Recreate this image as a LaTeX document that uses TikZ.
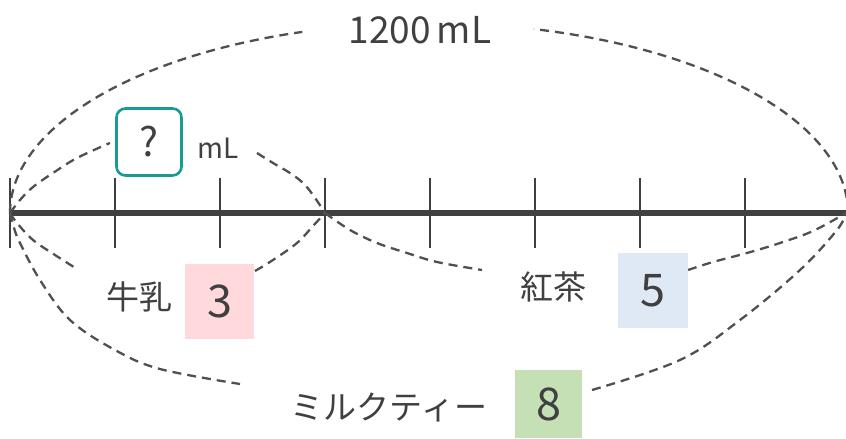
\documentclass[tikz,border=0pt]{standalone}
\usepackage{fontspec}
\newfontfamily\jp{Noto Sans CJK JP}
\definecolor{ink}{HTML}{404040}
\definecolor{arcgray}{HTML}{505050}
\definecolor{tealc}{HTML}{1A9A96}
\definecolor{pinkc}{HTML}{FFD9DB}
\definecolor{bluec}{HTML}{DEE9F5}
\definecolor{greenc}{HTML}{C5E0B4}
\begin{document}
\begin{tikzpicture}[x=1pt,y=1pt,
  mainline/.style={draw=ink, line width=5.5pt},
  tickline/.style={draw=ink, line width=2.4pt},
  arcline/.style={draw=arcgray, line width=2.3pt, dash pattern=on 9pt off 6pt},
  lbl/.style={font=\jp\fontsize{33}{36}\selectfont, text=ink, inner sep=0pt},
  numbox/.style={font=\jp\fontsize{45}{50}\selectfont, text=ink, inner sep=0pt},
  qbox/.style={draw=tealc, line width=2.6pt, rounded corners=9pt, minimum width=65pt, minimum height=67pt, inner sep=0pt, font=\jp\fontsize{40}{44}\selectfont, text=ink}
]
\useasboundingbox (0,0) rectangle (846,439);
% tick marks
\foreach \i in {0,...,7} {
  \coordinate (t\i) at (10+105*\i,226);
  \draw[tickline] (10+105*\i,261) -- (10+105*\i,191);
}
\coordinate (L) at (10,226);
\coordinate (R) at (846,226);
\coordinate (RR) at (848,226);
\draw[mainline] (L) -- (R);
% top big arc (1200 mL)
\draw[arcline] (t0) arc[start angle=180, end angle=107.6, x radius=419, y radius=190];
\draw[arcline] (RR) arc[start angle=0, end angle=75.5, x radius=419, y radius=190];
% top small arc (? mL)
\draw[arcline] plot[smooth, tension=0.6] coordinates {(10,226) (20,239) (33,252) (53,266) (77,281) (110,296)};
\draw[arcline] plot[smooth, tension=0.6] coordinates {(257,286) (273,276) (290,266) (303,256) (313,244) (325,226)};
% milk arc
\draw[arcline] plot[smooth, tension=0.6] coordinates {(10,226) (17,216) (33,199) (55,184) (77,170)};
\draw[arcline] plot[smooth, tension=0.6] coordinates {(255,168) (273,179) (297,196) (313,213) (325,226)};
% tea arc
\draw[arcline] plot[smooth, tension=0.6] coordinates {(325,226) (350,209) (377,196) (407,186) (437,177) (482,169)};
\draw[arcline] plot[smooth, tension=0.6] coordinates {(688,169) (713,177) (747,186) (780,196) (813,208) (846,226)};
% milk tea arc
\draw[arcline] plot[smooth, tension=0.6] coordinates {(10,226) (14,211) (20,196) (40,159) (70,119) (115,89) (160,70) (240,55)};
\draw[arcline] plot[smooth, tension=0.6] coordinates {(592,49) (680,79) (740,119) (800,169) (837,209) (846,226)};
% labels
\node[lbl, font=\jp\fontsize{37}{40}\selectfont] (total) at (420,409) {1200\hspace{6pt}mL};
\node[qbox] (q) at (149,297) {?};
\node[lbl, font=\jp\fontsize{28}{32}\selectfont] (ml) at (218,291) {mL};
\node[lbl] (milk) at (139,142) {牛乳};
\node[numbox, fill=pinkc, minimum width=69pt, minimum height=75pt] (n3) at (219.5,137.5) {3};
\node[lbl] (tea) at (553,152) {紅茶};
\node[numbox, fill=bluec, minimum width=70pt, minimum height=75pt] (n5) at (653,148.5) {5};
\node[lbl] (mt) at (389,32) {ミルクティー};
\node[numbox, fill=greenc, minimum width=67pt, minimum height=68pt] (n8) at (548.5,35) {8};
\end{tikzpicture}
\end{document}
